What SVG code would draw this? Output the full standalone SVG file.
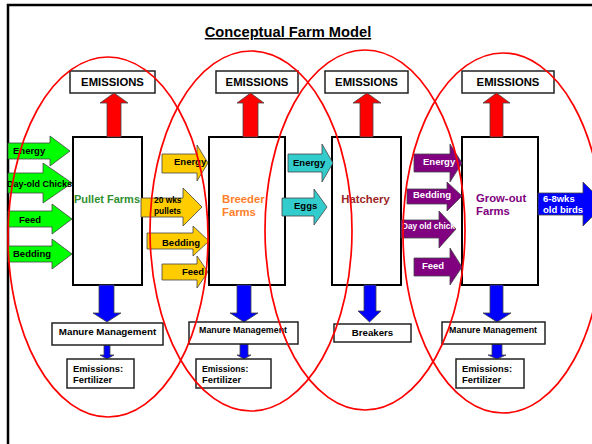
<svg xmlns="http://www.w3.org/2000/svg" width="592" height="444" viewBox="0 0 592 444">
<defs>
<style>
text{font-family:"Liberation Sans",Arial,sans-serif;font-weight:bold;}
.box{fill:#fff;stroke:#222;stroke-width:1.5;}
.pbox{fill:#fff;stroke:#000;stroke-width:2;}
.arr{stroke:#444;stroke-width:0.8;stroke-linejoin:miter;}
.green{fill:#00ff00;}
.yel{fill:#ffcc00;}
.cyan{fill:#33cccc;}
.purp{fill:#800080;}
.blue{fill:#0000ff;}
.red{fill:#ff0000;}
.ell{fill:none;stroke:#ff0000;stroke-width:1.7;}
.t9{font-size:9.5px;fill:#000;}
.tw{font-size:9.5px;fill:#fff;}
.em{font-size:11.3px;fill:#000;text-anchor:middle;}
.mm{font-size:9px;fill:#000;text-anchor:middle;}
.ef{font-size:9.4px;fill:#000;}
.pl{font-size:11.3px;}
</style>
</defs>
<rect x="8" y="5" width="600" height="450" fill="#fff" stroke="#000" stroke-width="2.5"/>
<text x="288" y="37" style="font-size:14.7px" text-anchor="middle" text-decoration="underline" fill="#000">Conceptual Farm Model</text>

<g id="emissions-boxes">
<g id="em1"><rect class="box" x="70" y="71" width="85" height="22"/><text class="em" x="112.5" y="85.5">EMISSIONS</text></g>
<g id="em2"><rect class="box" x="216" y="71" width="82" height="22"/><text class="em" x="257" y="85.5">EMISSIONS</text></g>
<g id="em3"><rect class="box" x="325" y="71" width="83" height="22"/><text class="em" x="366.5" y="85.5">EMISSIONS</text></g>
<g id="em4"><rect class="box" x="462" y="71" width="92" height="22"/><text class="em" x="508" y="85.5">EMISSIONS</text></g>
</g>

<g id="pullet"><rect class="pbox" x="73" y="137" width="69" height="148"/></g>
<g id="breeder"><rect class="pbox" x="209" y="137" width="76" height="148"/></g>
<g id="hatchery"><rect class="pbox" x="332" y="137" width="69" height="148"/></g>
<g id="growout"><rect class="pbox" x="462" y="137" width="76" height="148"/></g>

<g id="connectors">
<polygon class="arr red" points="107,137 107,103 100,103 114,93 128,103 121,103 121,137"/>
<polygon class="arr red" points="243,137 243,103 237,103 250.5,93 264,103 258,103 258,137"/>
<polygon class="arr red" points="360,137 360,103 353,103 367,93 381,103 373,103 373,137"/>
<polygon class="arr red" points="490,137 490,103 483,103 496.5,93 510,103 503,103 503,137"/>
<polygon class="arr blue" points="99,285 114,285 114,313 121,313 107,322 93,313 99,313"/>
<polygon class="arr blue" points="237,285 251,285 251,313 258,313 244,322 230,313 237,313"/>
<polygon class="arr blue" points="364,285 376,285 376,311 381,311 369.5,322 358,311 364,311"/>
<polygon class="arr blue" points="490,285 503,285 503,313 511,313 497,322 483,313 490,313"/>
<polygon class="arr blue" points="104,345 110,345 110,355 114,355 107,359 100,355 104,355"/>
<polygon class="arr blue" points="240,344 248,344 248,355 251,355 244,359 237,355 240,355"/>
<polygon class="arr blue" points="492,344 502,344 502,355 506,355 497,359 488,355 492,355"/>
<polygon class="arr green" points="8,143 50,143 50,136 70,151 50,166 50,159 8,159"/>
<polygon class="arr green" points="8,173 43,173 43,163 72,183 43,203 43,193 8,193"/>
<polygon class="arr green" points="8,211 52,211 52,204 72,219 52,234 52,227 8,227"/>
<polygon class="arr green" points="8,246 52,246 52,239 72,254 52,269 52,262 8,262"/>
<polygon class="arr yel" points="162,154 197,154 197,145 208,163 197,181 197,173 162,173"/>
<polygon class="arr yel" points="141,198 183,198 183,188 202,207 183,226 183,217 141,217"/>
<polygon class="arr yel" points="147,233 193,233 193,226 209,241 193,256 193,249 147,249"/>
<polygon class="arr yel" points="162,264 197,264 197,256 208,272 197,288 197,280 162,280"/>
<polygon class="arr cyan" points="288,154 322,154 322,144 333,163 322,182 322,172 288,172"/>
<polygon class="arr cyan" points="282,198 314,198 314,189 327,207 314,225 314,216 282,216"/>
<polygon class="arr purp" points="414,154 450,154 450,144 462,163 450,182 450,172 414,172"/>
<polygon class="arr purp" points="407,189 447,189 447,182 462,196 447,211 447,204 407,204"/>
<polygon class="arr purp" points="401,220 439,220 439,211 456,229 439,248 439,238 401,238"/>
<polygon class="arr purp" points="414,258 450,258 450,248 462,267 450,285 450,276 414,276"/>
<polygon class="arr blue" points="538,193 583,193 583,182 605,204 583,226 583,215 538,215"/>
</g>

<g id="labels-inputs">
<text class="t9" x="13" y="154">Energy</text>
<text class="t9" x="7" y="187" style="font-size:9px" textLength="65" lengthAdjust="spacingAndGlyphs">Day-old Chicks</text>
<text class="t9" x="19" y="223">Feed</text>
<text class="t9" x="13" y="257">Bedding</text>
<text class="t9" x="174" y="165">Energy</text>
<text class="t9" x="154" y="203" style="font-size:8.4px">20 wks</text>
<text class="t9" x="154" y="214" style="font-size:8.4px">pullets</text>
<text class="t9" x="162" y="246">Bedding</text>
<text class="t9" x="182" y="275">Feed</text>
<text class="t9" x="293" y="166">Energy</text>
<text class="t9" x="294" y="209">Eggs</text>
<text class="tw" x="423" y="165">Energy</text>
<text class="tw" x="413" y="198">Bedding</text>
<text class="tw" x="402" y="229" style="font-size:8.2px">Day old chick</text>
<text class="tw" x="422" y="269">Feed</text>
<text class="tw" x="543" y="202">6-8wks</text>
<text class="tw" x="543" y="213">old birds</text>
</g>

<g id="process-labels">
<text class="pl" x="107" y="203" text-anchor="middle" style="font-size:11px" fill="#2f8f2f">Pullet Farms</text>
<text class="pl" x="222" y="203" fill="#ff7f2a">Breeder</text>
<text class="pl" x="222" y="216" fill="#ff7f2a">Farms</text>
<text class="pl" x="365.5" y="203" text-anchor="middle" fill="#9b2525">Hatchery</text>
<text class="pl" x="476" y="202" fill="#800080">Grow-out</text>
<text class="pl" x="476" y="215" fill="#800080">Farms</text>
</g>

<g id="manure1"><rect class="box" x="52" y="323" width="111" height="22"/><text class="mm" x="107.5" y="335" style="font-size:9.8px">Manure Management</text></g>
<g id="manure2"><rect class="box" x="189" y="322" width="109" height="22"/><text class="mm" x="243" y="333" style="font-size:8.85px">Manure Management</text></g>
<g id="breakers"><rect class="box" x="334" y="324" width="77" height="18"/><text class="mm" x="372.5" y="336" style="font-size:9.7px">Breakers</text></g>
<g id="manure4"><rect class="box" x="442" y="322" width="103" height="22"/><text class="mm" x="493" y="333" style="font-size:8.85px">Manure Management</text></g>

<g id="fert1"><rect class="box" x="67" y="359" width="67" height="29"/><text class="ef" x="73" y="372">Emissions:</text><text class="ef" x="73" y="383">Fertilizer</text></g>
<g id="fert2"><rect class="box" x="196" y="359" width="75" height="29"/><text class="ef" x="202" y="372" style="font-size:8.7px">Emissions:</text><text class="ef" x="202" y="383">Fertilizer</text></g>
<g id="fert4"><rect class="box" x="456" y="359" width="68" height="29"/><text class="ef" x="462" y="372">Emissions:</text><text class="ef" x="462" y="383">Fertilizer</text></g>

<g id="ellipses">
<ellipse class="ell" cx="108" cy="237" rx="100" ry="180"/>
<ellipse class="ell" cx="251" cy="231" rx="101" ry="180"/>
<ellipse class="ell" cx="365" cy="230" rx="100" ry="180"/>
<ellipse class="ell" cx="503" cy="233" rx="100" ry="180"/>
</g>
</svg>
